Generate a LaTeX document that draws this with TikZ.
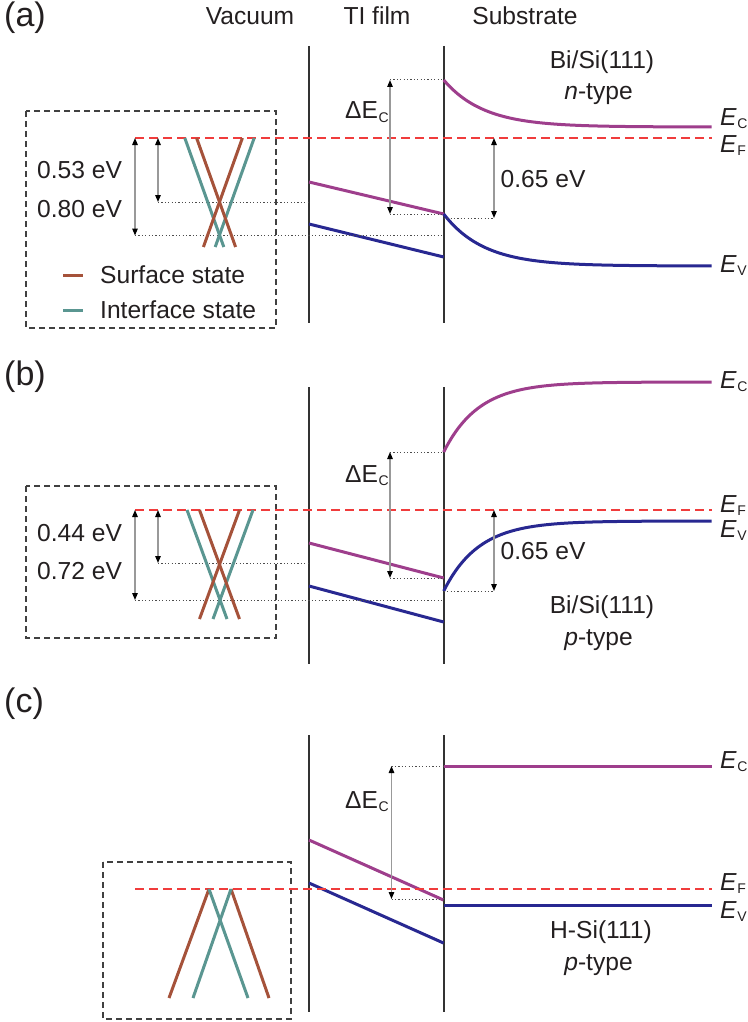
\documentclass[tikz,border=0pt]{standalone}
\usepackage{fontspec}
\setmainfont{Liberation Sans}
\usetikzlibrary{arrows.meta}
\definecolor{mag}{RGB}{158,62,140}
\definecolor{bandblue}{RGB}{40,40,145}
\definecolor{fred}{RGB}{240,60,60}
\definecolor{brownc}{RGB}{165,82,58}
\definecolor{tealc}{RGB}{90,150,145}
\definecolor{txt}{RGB}{35,31,32}
\newcommand{\Elab}[1]{\textit{E}\kern0.5pt\raisebox{-3.5pt}{\fontsize{14}{14}\selectfont #1}}
\newcommand{\dEc}{ΔE\kern0.5pt\raisebox{-3.5pt}{\fontsize{14}{14}\selectfont C}}
\tikzset{
  wall/.style={draw=black!80, line width=2pt},
  cb/.style={draw=mag, line width=3pt},
  vb/.style={draw=bandblue, line width=3pt},
  fermi/.style={draw=fred, line width=1.5pt, dash pattern=on 9pt off 5pt},
  inset/.style={draw=black!75, line width=1.3pt, dash pattern=on 6pt off 4pt},
  guide/.style={draw=black!70, line width=1pt, dash pattern=on 1.2pt off 2.2pt},
  dim/.style={draw=black!40, line width=1.2pt, {Triangle[length=7pt,width=5.5pt,color=black]}-{Triangle[length=7pt,width=5.5pt,color=black]}},
  surf/.style={draw=brownc, line width=3pt},
  intf/.style={draw=tealc, line width=3pt},
  lbl/.style={anchor=base, inner sep=0pt, text=txt, font=\fontsize{24.6}{28}\selectfont},
  lblw/.style={lbl, anchor=base west},
  panel/.style={anchor=base west, inner sep=0pt, text=txt, font=\fontsize{34}{38}\selectfont},
}
\begin{document}
\begin{tikzpicture}[x=1pt, y=-1pt]
\useasboundingbox (0,0) rectangle (747,1022);

% ---------- headers ----------
\node[panel] (pa) at (4,27) {(a)};
\node[lbl] (hvac) at (250,25) {Vacuum};
\node[lbl] (hti) at (377,25) {TI film};
\node[lbl] (hsub) at (525,25) {Substrate};

% ================= PANEL (a) =================
\draw[inset] (26,111) rectangle (276,328);
\draw[wall] (309,46) -- (309,323);
\draw[wall] (443.7,46) -- (443.7,323);
% bands
\draw[cb] (309,182) -- (443.7,214);
\draw[vb] (309,224) -- (443.7,257);
\draw[cb] plot[domain=443.7:711.7, samples=90, smooth] (\x,{127-47*exp(-(\x-443.7)/40)});
\draw[vb] plot[domain=443.7:711.7, samples=90, smooth] (\x,{266-52*exp(-(\x-443.7)/40)});
% Fermi level
\draw[fermi] (135,138) -- (712,138);
% guides
\draw[guide] (158,202) -- (309,202);
\draw[guide] (135,235.5) -- (443.7,235.5);
\draw[guide] (390,80) -- (443.7,80);
\draw[guide] (390,214) -- (443.7,214);
\draw[guide] (443.7,218) -- (494,218);
% dimension arrows
\coordinate (a1t) at (135,138); \coordinate (a1b) at (135,235.5);
\coordinate (a2t) at (158,138); \coordinate (a2b) at (158,202);
\coordinate (a3t) at (390,80);  \coordinate (a3b) at (390,214);
\coordinate (a4t) at (494,138); \coordinate (a4b) at (494,218);
\draw[dim] (a1t) -- (a1b);
\draw[dim] (a2t) -- (a2b);
\draw[dim] (a3t) -- (a3b);
\draw[dim] (a4t) -- (a4b);
% Dirac cones
\draw[intf] (184.8,138) -- (223.8,247);
\draw[intf] (254.2,138) -- (215.2,247);
\draw[surf] (196.6,138) -- (235.6,247);
\draw[surf] (242.4,138) -- (203.4,247);
% legend
\draw[surf] (63,275) -- (83,275);
\draw[intf] (63,310) -- (83,310);
\node[lblw] (lsurf) at (100,283) {Surface state};
\node[lblw] (lintf) at (100,318) {Interface state};
% labels
\node[lblw] (ea1) at (37,178) {0.53 eV};
\node[lblw] (ea2) at (37,217) {0.80 eV};
\node[lblw] (dea) at (345,119) {\dEc};
\node[lblw] (g65a) at (500.5,187) {0.65 eV};
\node[lbl] (suba1) at (602,69) {Bi/Si(111)};
\node[lbl] (suba2) at (598.5,100) {\textit{n}-type};
\node[lblw] (eca) at (720,125) {\Elab{C}};
\node[lblw] (efa) at (720,152) {\Elab{F}};
\node[lblw] (eva) at (720,272) {\Elab{V}};

% ================= PANEL (b) =================
\node[panel] (pb) at (4,385) {(b)};
\draw[inset] (26,486) rectangle (276,638);
\draw[wall] (309,387) -- (309,664);
\draw[wall] (443.7,387) -- (443.7,664);
\draw[cb] (309,543) -- (443.7,578);
\draw[vb] (309,586) -- (443.7,622);
\draw[cb] plot[domain=443.7:711.7, samples=90, smooth] (\x,{382+70*exp(-(\x-443.7)/35)});
\draw[vb] plot[domain=443.7:711.7, samples=90, smooth] (\x,{521+70*exp(-(\x-443.7)/35)});
\draw[fermi] (135,510) -- (712,510);
\draw[guide] (158,563) -- (309,563);
\draw[guide] (135,600) -- (443.7,600);
\draw[guide] (390,452) -- (443.7,452);
\draw[guide] (390,578) -- (443.7,578);
\draw[guide] (443.7,591) -- (494,591);
\coordinate (b1t) at (135,510); \coordinate (b1b) at (135,600);
\coordinate (b2t) at (158,510); \coordinate (b2b) at (158,563);
\coordinate (b3t) at (390,452); \coordinate (b3b) at (390,578);
\coordinate (b4t) at (494,510); \coordinate (b4b) at (494,591);
\draw[dim] (b1t) -- (b1b);
\draw[dim] (b2t) -- (b2b);
\draw[dim] (b3t) -- (b3b);
\draw[dim] (b4t) -- (b4b);
\draw[intf] (187,510) -- (227,619);
\draw[intf] (253,510) -- (213,619);
\draw[surf] (199.5,510) -- (239.5,619);
\draw[surf] (239.5,510) -- (199.5,619);
\node[lblw] (eb1) at (37,541) {0.44 eV};
\node[lblw] (eb2) at (37,579) {0.72 eV};
\node[lblw] (deb) at (345,482) {\dEc};
\node[lblw] (g65b) at (500.5,559) {0.65 eV};
\node[lbl] (subb1) at (602,613) {Bi/Si(111)};
\node[lbl] (subb2) at (598.5,645) {\textit{p}-type};
\node[lblw] (ecb) at (720,388) {\Elab{C}};
\node[lblw] (efb) at (720,512) {\Elab{F}};
\node[lblw] (evb) at (720,537) {\Elab{V}};

% ================= PANEL (c) =================
\node[panel] (pc) at (4,712) {(c)};
\draw[inset] (103,862) rectangle (291,1019);
\draw[wall] (309,735) -- (309,1012);
\draw[wall] (443.5,735) -- (443.5,1012);
\draw[cb] (309,840) -- (443.5,900);
\draw[vb] (309,883) -- (443.5,943);
\draw[cb] (443.5,766) -- (711.7,766);
\draw[vb] (443.5,905) -- (711.7,905);
\draw[fermi] (135,889) -- (712,889);
\draw[guide] (391.5,766) -- (443.5,766);
\draw[guide] (391.5,899) -- (443.5,899);
\coordinate (c3t) at (391.5,766); \coordinate (c3b) at (391.5,899);
\draw[dim] (c3t) -- (c3b);
\draw[surf] (209,889) -- (169,998);
\draw[surf] (231,889) -- (269,998);
\draw[intf] (209,889) -- (248,998);
\draw[intf] (231,889) -- (193,998);
\node[lblw] (dec) at (345,808) {\dEc};
\node[lbl] (subc1) at (601,938) {H-Si(111)};
\node[lbl] (subc2) at (598.5,970) {\textit{p}-type};
\node[lblw] (ecc) at (720,768) {\Elab{C}};
\node[lblw] (efc) at (720,890) {\Elab{F}};
\node[lblw] (evc) at (720,918) {\Elab{V}};
\end{tikzpicture}
\end{document}
